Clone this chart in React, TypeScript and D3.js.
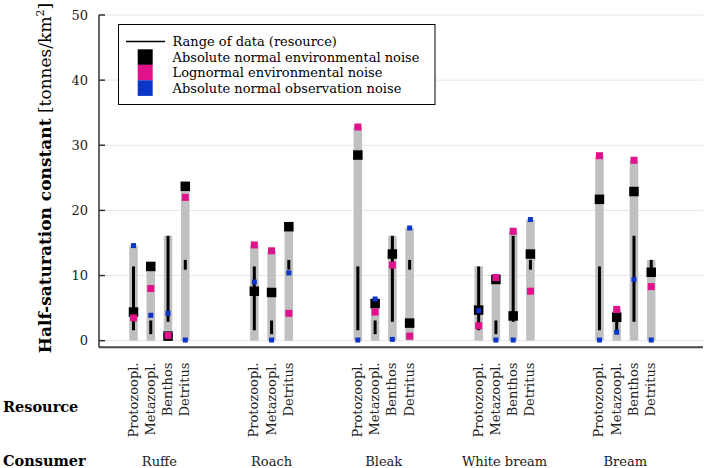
import React from "react";
import * as d3 from "d3";

// Consumers and the resources eaten by each (in plotting order)
const consumers = ["Ruffe", "Roach", "Bleak", "White bream", "Bream"];
const resources = ["Protozoopl.", "Metazoopl.", "Benthos", "Detritus"];
const consumerResources = [
  [0, 1, 2, 3],
  [0, 1, 3],
  [0, 1, 2, 3],
  [0, 1, 2, 3],
  [0, 1, 2, 3],
];

// Range of observed data for each resource
const rangeLow = [1.6, 1.0, 2.9, 10.9];
const rangeHigh = [11.4, 3.1, 16.1, 12.4];

// Estimated half-saturation constants, one entry per consumer–resource bar
const absNormalEnv = [4.4, 11.4, 0.7, 23.7, 7.6, 7.4, 17.5, 28.5, 5.7, 13.3, 2.7, 4.7, 9.4, 3.8, 13.3, 21.7, 3.6, 22.9, 10.5];
const lognormalEnv = [3.5, 8.0, 0.8, 22.0, 14.7, 13.8, 4.2, 32.8, 4.4, 11.6, 0.7, 2.3, 9.7, 16.8, 7.6, 28.4, 4.8, 27.7, 8.3];
const absNormalObs = [14.6, 3.9, 4.2, 0.1, 9.0, 0.1, 10.4, 0.1, 6.4, 0.2, 17.3, 4.6, 0.1, 0.1, 18.6, 0.1, 1.3, 9.4, 0.1];

const yTicks = [0, 10, 20, 30, 40, 50];

const COL_BLACK = "#000000";
const COL_PINK = "#e0118a";
const COL_BLUE = "#0a35c8";
const COL_GRAY = "#c0c0c0";
const FONT = "'DejaVu Serif', serif";

const W = 709;
const H = 468;
const M = { left: 99, right: 703, top: 15, bottom: 347.2 };

type Bar = {
  slot: number;
  consumer: number;
  resource: number;
  black: number;
  pink: number;
  blue: number;
  lo: number;
  hi: number;
};

function buildBars(): Bar[] {
  const bars: Bar[] = [];
  let slot = 1;
  let k = 0;
  consumerResources.forEach((rs, ci) => {
    if (ci > 0) slot += 3;
    rs.forEach((ri) => {
      bars.push({
        slot,
        consumer: ci,
        resource: ri,
        black: absNormalEnv[k],
        pink: lognormalEnv[k],
        blue: absNormalObs[k],
        lo: rangeLow[ri],
        hi: rangeHigh[ri],
      });
      slot += 1;
      k += 1;
    });
  });
  return bars;
}

export default function App() {
  const bars = buildBars();
  const x = d3.scaleLinear().domain([-1, 34]).range([M.left, M.right]);
  const y = d3.scaleLinear().domain([-1, 50]).range([M.bottom, M.top]);

  const barW = 8.5;
  const sBlack = 9.5;
  const sPink = 7;
  const sBlue = 5;

  const groups = consumers.map((name, ci) => {
    const b = bars.filter((d) => d.consumer === ci);
    const cx = (x(b[0].slot) + x(b[b.length - 1].slot)) / 2;
    return { name, cx };
  });

  const sq = (cx: number, v: number, s: number, fill: string, key: string) => (
    <rect key={key} x={cx - s / 2} y={y(v) - s / 2} width={s} height={s} fill={fill} />
  );

  const legendX = 118.5;
  const legendY = 24.5;
  const legendRows = [
    { label: "Range of data (resource)", kind: "line" },
    { label: "Absolute normal environmental noise", color: COL_BLACK },
    { label: "Lognormal environmental noise", color: COL_PINK },
    { label: "Absolute normal observation noise", color: COL_BLUE },
  ];

  return (
    <svg
      width={W}
      height={H}
      style={{ position: "absolute", left: 0, top: 0, background: "#fff" }}
      fontFamily={FONT}
    >
      {/* horizontal grid */}
      {yTicks.map((t) => (
        <line key={"g" + t} x1={M.left} x2={M.right} y1={y(t)} y2={y(t)} stroke="#e6e6e6" strokeWidth={1} />
      ))}

      {/* bars */}
      {bars.map((d, i) => {
        const cx = x(d.slot);
        const top = Math.max(d.black, d.pink, d.blue, d.hi);
        return (
          <g key={"b" + i}>
            <rect x={cx - barW / 2} y={y(top)} width={barW} height={y(0) - y(top)} fill={COL_GRAY} />
            <line x1={cx} x2={cx} y1={y(d.lo)} y2={y(d.hi)} stroke={COL_BLACK} strokeWidth={3} />
            {sq(cx, d.black, sBlack, COL_BLACK, "k")}
            {sq(cx, d.pink, sPink, COL_PINK, "p")}
            {sq(cx, d.blue, sBlue, COL_BLUE, "u")}
          </g>
        );
      })}

      {/* axes */}
      <line x1={M.left} x2={M.left} y1={M.top} y2={M.bottom} stroke="#333" strokeWidth={1.5} />
      <line x1={M.left} x2={M.right} y1={M.bottom} y2={M.bottom} stroke="#444" strokeWidth={2} />
      {yTicks.map((t) => (
        <g key={"t" + t}>
          <line x1={M.left} x2={M.left + 6} y1={y(t)} y2={y(t)} stroke="#333" strokeWidth={1.5} />
          <text x={88} y={y(t)} dy="0.35em" textAnchor="end" fontSize={13} fill="#222">
            {t}
          </text>
        </g>
      ))}

      {/* y-axis title */}
      <text
        transform={`translate(51,178) rotate(-90)`}
        textAnchor="middle"
        fontSize={17}
        fill="#000"
      >
        <tspan fontWeight="bold">Half-saturation constant</tspan>
        <tspan> [tonnes/km</tspan>
        <tspan fontSize={11} dy={-7}>2</tspan>
        <tspan dy={7}>]</tspan>
      </text>

      {/* resource labels */}
      {bars.map((d, i) => (
        <text
          key={"r" + i}
          transform={`translate(${x(d.slot) + 4},362.5) rotate(-90)`}
          textAnchor="end"
          fontSize={13}
          fill="#222"
        >
          {resources[d.resource]}
        </text>
      ))}

      {/* consumer labels */}
      {groups.map((g) => (
        <text key={g.name} x={g.cx} y={466} textAnchor="middle" fontSize={13} fill="#222">
          {g.name}
        </text>
      ))}

      <text x={3} y={411.5} fontSize={14.5} fontWeight="bold" fill="#000">
        Resource
      </text>
      <text x={3} y={466} fontSize={14.5} fontWeight="bold" fill="#000">
        Consumer
      </text>

      {/* legend */}
      <g>
        <rect x={legendX} y={legendY} width={316.5} height={80} fill="#fff" stroke="#000" strokeWidth={1} />
        {legendRows.map((r, i) => {
          const rowY = 41.5 + i * 15.5;
          return (
            <g key={"l" + i}>
              {r.kind === "line" ? (
                <line x1={126} x2={165} y1={rowY} y2={rowY} stroke="#000" strokeWidth={1.5} />
              ) : (
                <rect x={137.7} y={49.3 + (i - 1) * 15.5} width={15} height={15.6} fill={r.color} />
              )}
              <text x={172.5} y={rowY} dy="0.35em" fontSize={13} fill="#000">
                {r.label}
              </text>
            </g>
          );
        })}
      </g>
    </svg>
  );
}
